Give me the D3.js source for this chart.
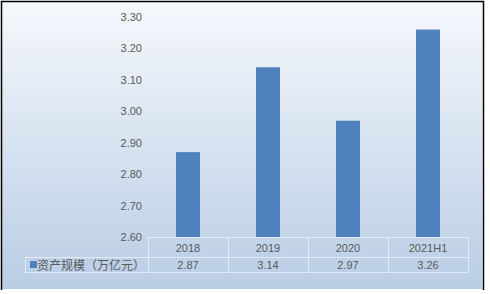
<!DOCTYPE html>
<html><head><meta charset="utf-8">
<script src="https://cdn.jsdelivr.net/npm/d3@7"></script>
<style>body{margin:0;background:#fff}svg{display:block}</style>
</head><body>
<svg id="c" width="490" height="294"></svg>
<script>
const categories = ["2018", "2019", "2020", "2021H1"];
const values = [2.87, 3.14, 2.97, 3.26];
const seriesName = "资产规模（万亿元）";
const yTicks = [2.6, 2.7, 2.8, 2.9, 3.0, 3.1, 3.2, 3.3];

const svg = d3.select("#c");
const defs = svg.append("defs");
const g = defs.append("linearGradient").attr("id","bg").attr("x1",0).attr("y1",0).attr("x2",0).attr("y2",1);
g.append("stop").attr("offset","0%").attr("stop-color","#f5f8fc");
g.append("stop").attr("offset","100%").attr("stop-color","#b9cde5");

svg.append("rect").attr("x",2).attr("y",2).attr("width",480).attr("height",287).attr("fill","url(#bg)");
svg.append("path").attr("d","M1.5,290 V1.5 H483.5 V290").attr("fill","none").attr("stroke","#000").attr("stroke-width",1.5);

const x = d3.scaleBand().domain(categories).range([148,468]).paddingInner(0).paddingOuter(0);
const y = d3.scaleLinear().domain([2.6,3.3]).range([237,17]);
const font = "'Liberation Sans', 'Noto Sans CJK SC', sans-serif";
const tc = "#595959";

// y axis labels
svg.append("g").selectAll("text").data(yTicks).join("text")
  .attr("x",142).attr("y",d=>y(d)+4).attr("text-anchor","end")
  .attr("font-family",font).attr("font-size",11).attr("fill",tc)
  .text(d=>d.toFixed(2));

// bars
const bw = 24;
svg.append("g").selectAll("rect").data(values).join("rect")
  .attr("x",(d,i)=>x(categories[i])+x.bandwidth()/2-bw/2)
  .attr("y",d=>y(d)).attr("width",bw).attr("height",d=>y(2.6)-y(d))
  .attr("fill","#4f81bd");

// data table
const lc = "rgba(255,255,255,0.55)";
const tbl = svg.append("g").attr("stroke",lc).attr("stroke-width",1).attr("fill","none");
const rowTop = 237.5, rowMid = 257.5, rowBot = 272.5;
tbl.append("line").attr("x1",148).attr("x2",468).attr("y1",rowTop).attr("y2",rowTop);
tbl.append("line").attr("x1",25).attr("x2",468).attr("y1",rowMid).attr("y2",rowMid);
tbl.append("line").attr("x1",25).attr("x2",468).attr("y1",rowBot).attr("y2",rowBot);
tbl.append("line").attr("x1",25.5).attr("x2",25.5).attr("y1",rowMid).attr("y2",rowBot);
const vx = categories.map(c=>x(c)).concat([x.range()[1]]);
tbl.selectAll("line.v").data(vx).join("line").attr("class","v")
  .attr("x1",d=>d+0.5).attr("x2",d=>d+0.5).attr("y1",rowTop).attr("y2",rowBot);

svg.append("g").selectAll("text").data(categories).join("text")
  .attr("x",d=>x(d)+x.bandwidth()/2).attr("y",251.5).attr("text-anchor","middle")
  .attr("font-family",font).attr("font-size",11).attr("fill",tc).text(d=>d);
svg.append("g").selectAll("text").data(values).join("text")
  .attr("x",(d,i)=>x(categories[i])+x.bandwidth()/2).attr("y",269).attr("text-anchor","middle")
  .attr("font-family",font).attr("font-size",11).attr("fill",tc).text(d=>d.toFixed(2));

// legend key
svg.append("rect").attr("x",30).attr("y",261).attr("width",7).attr("height",7).attr("fill","#4f81bd");
svg.append("text").attr("x",37).attr("y",269.5).attr("font-family",font).attr("font-size",12).attr("fill",tc).text(seriesName);
</script>
</body></html>
